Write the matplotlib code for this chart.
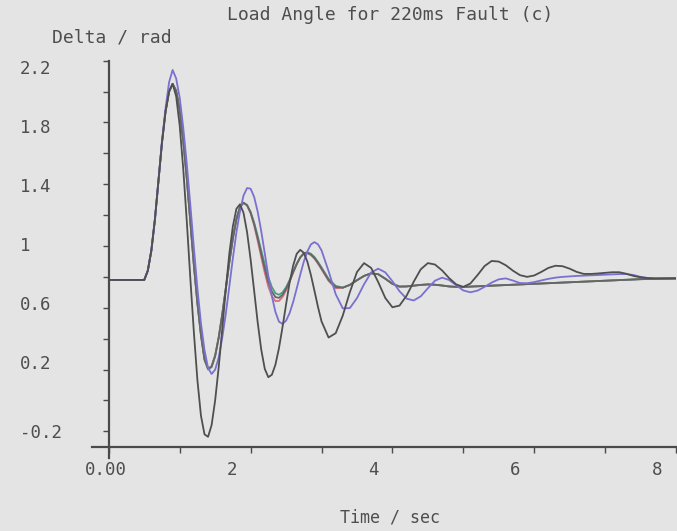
import numpy as np
import matplotlib
matplotlib.use("Agg")
import matplotlib.pyplot as plt
from matplotlib import transforms

# Sample times (s): flat pre-fault section, fine sampling through the large swings, then 0.1 s
time_s = np.concatenate([[0.0, 0.5],
                         np.round(np.arange(0.55, 3.0001, 0.05), 2),
                         np.round(np.arange(3.1, 8.0001, 0.1), 1)])

# Load angle (rad) for each case
delta_black = [
    0.78, 0.78,
    0.84, 0.97, 1.17, 1.42, 1.67, 1.87, 2.00, 2.05, 1.97, 1.78,
    1.50, 1.16, 0.79, 0.44, 0.13, -0.10, -0.22, -0.236, -0.16, 0.00,
    0.215, 0.462, 0.718, 0.951, 1.128, 1.241, 1.27, 1.215, 1.09, 0.913,
    0.71, 0.505, 0.329, 0.204, 0.15, 0.166, 0.231, 0.338, 0.474, 0.621,
    0.763, 0.873, 0.949, 0.975, 0.956, 0.899, 0.813, 0.711, 0.606, 0.512,
    0.407, 0.435, 0.549, 0.701, 0.831, 0.889, 0.858, 0.766, 0.663, 0.603,
    0.614, 0.678, 0.768, 0.849, 0.889, 0.88, 0.842, 0.792, 0.751, 0.735,
    0.757, 0.811, 0.870, 0.903, 0.899, 0.875, 0.84, 0.811, 0.80, 0.809,
    0.832, 0.858, 0.872, 0.869, 0.853, 0.832, 0.819, 0.819, 0.822, 0.826,
    0.83, 0.83, 0.82, 0.806, 0.797, 0.792, 0.79, 0.79, 0.79, 0.79,
]

delta_blue = [
    0.78, 0.78,
    0.84, 0.97, 1.17, 1.42, 1.68, 1.89, 2.06, 2.14, 2.085, 1.96,
    1.766, 1.532, 1.266, 0.988, 0.724, 0.498, 0.325, 0.21, 0.171, 0.199,
    0.277, 0.405, 0.56, 0.739, 0.921, 1.089, 1.224, 1.326, 1.375, 1.371,
    1.318, 1.222, 1.096, 0.952, 0.806, 0.675, 0.573, 0.51, 0.495, 0.516,
    0.565, 0.637, 0.724, 0.814, 0.898, 0.964, 1.01, 1.025, 1.011, 0.972,
    0.837, 0.688, 0.596, 0.598, 0.662, 0.752, 0.828, 0.853, 0.829, 0.772,
    0.707, 0.659, 0.647, 0.674, 0.726, 0.775, 0.795, 0.78, 0.746, 0.712,
    0.70, 0.711, 0.735, 0.763, 0.784, 0.79, 0.776, 0.76, 0.759, 0.766,
    0.777, 0.787, 0.795, 0.80, 0.803, 0.806, 0.808, 0.81, 0.812, 0.814,
    0.816, 0.818, 0.818, 0.812, 0.80, 0.793, 0.79, 0.79, 0.79, 0.79,
]

# The red, green and grey cases settle onto the same slow recovery from 3.3 s
settled_tail = [
    0.73, 0.748, 0.778, 0.806, 0.823, 0.817, 0.788, 0.755,
    0.737, 0.738, 0.743, 0.748, 0.751, 0.749, 0.744, 0.738, 0.735, 0.735,
    0.737, 0.739, 0.741, 0.743, 0.745, 0.747, 0.749, 0.751, 0.753, 0.755,
    0.757, 0.759, 0.761, 0.763, 0.765, 0.767, 0.769, 0.771, 0.773, 0.775,
    0.777, 0.779, 0.781, 0.783, 0.785, 0.786, 0.787, 0.788, 0.789, 0.79,
]

delta_red = [
    0.78, 0.78,
    0.84, 0.97, 1.17, 1.42, 1.67, 1.87, 2.00, 2.05, 2.006, 1.882,
    1.681, 1.436, 1.157, 0.876, 0.629, 0.423, 0.268, 0.207, 0.222, 0.292,
    0.409, 0.558, 0.725, 0.895, 1.049, 1.173, 1.253, 1.28, 1.263, 1.212,
    1.133, 1.034, 0.928, 0.826, 0.736, 0.675, 0.643, 0.644, 0.669, 0.712,
    0.767, 0.827, 0.882, 0.925, 0.95, 0.953, 0.941, 0.918, 0.886, 0.849,
    0.774, 0.726,
] + settled_tail

delta_green = [
    0.78, 0.78,
    0.84, 0.97, 1.17, 1.42, 1.67, 1.87, 2.00, 2.05, 2.006, 1.882,
    1.681, 1.436, 1.157, 0.876, 0.629, 0.423, 0.262, 0.20, 0.215, 0.285,
    0.405, 0.555, 0.722, 0.893, 1.048, 1.172, 1.253, 1.28, 1.265, 1.221,
    1.152, 1.065, 0.972, 0.881, 0.797, 0.734, 0.694, 0.684, 0.699, 0.733,
    0.779, 0.833, 0.885, 0.927, 0.953, 0.96, 0.95, 0.929, 0.897, 0.861,
    0.787, 0.742,
] + settled_tail

delta_grey = [
    0.78, 0.78,
    0.84, 0.97, 1.17, 1.42, 1.67, 1.87, 2.00, 2.05, 2.006, 1.882,
    1.681, 1.436, 1.157, 0.876, 0.629, 0.423, 0.265, 0.204, 0.219, 0.289,
    0.407, 0.557, 0.724, 0.894, 1.049, 1.173, 1.253, 1.28, 1.264, 1.216,
    1.142, 1.05, 0.95, 0.853, 0.766, 0.705, 0.669, 0.664, 0.684, 0.722,
    0.773, 0.83, 0.883, 0.926, 0.951, 0.956, 0.945, 0.923, 0.891, 0.855,
    0.78, 0.734,
] + settled_tail

x_ticks = [0, 1, 2, 3, 4, 5, 6, 7, 8]
x_tick_labels = ["0.00", "", "2", "", "4", "", "6", "", "8"]
y_ticks = [-0.2, 0.0, 0.2, 0.4, 0.6, 0.8, 1.0, 1.2, 1.4, 1.6, 1.8, 2.0, 2.2]
y_tick_labels = ["-0.2", "", "0.2", "", "0.6", "", "1", "", "1.4", "", "1.8", "", "2.2"]

BG = "#e4e4e4"
INK = "#4e4e4e"
AXIS = "#4a4a4a"
FONT = "DejaVu Sans Mono"

W, H, DPI = 677, 531, 100
fig = plt.figure(figsize=(W / DPI, H / DPI), dpi=DPI, facecolor=BG)

x0, x1 = 108.8, 676.0
y_top, y_bot = 60.7, 446.7
ax = fig.add_axes([x0 / W, (H - y_bot) / H, (x1 - x0) / W, (y_bot - y_top) / H])
ax.set_facecolor(BG)
ax.set_xlim(0, 8)
ax.set_ylim(-0.3, 2.2)

lw = 1.3
ax.plot(time_s, delta_red, color="#d8707c", lw=lw)
ax.plot(time_s, delta_green, color="#4f9a86", lw=lw)
ax.plot(time_s, delta_grey, color="#666666", lw=lw)
ax.plot(time_s, delta_blue, color="#7a70d0", lw=lw)
ax.plot(time_s, delta_black, color="#4f4f4f", lw=lw)

for side in ("top", "right"):
    ax.spines[side].set_visible(False)
for side in ("left", "bottom"):
    ax.spines[side].set_color(AXIS)
    ax.spines[side].set_linewidth(1.6)
ax.spines["left"].set_bounds(-0.37, 2.2)
ax.spines["bottom"].set_bounds(-0.24, 8)

ax.set_xticks(x_ticks)
ax.set_xticklabels(x_tick_labels)
ax.set_yticks(y_ticks)
ax.set_yticklabels(y_tick_labels)
ax.tick_params(axis="both", direction="out", length=4, width=1.0, color=AXIS,
               labelcolor=INK, labelsize=12.5)
ax.tick_params(axis="x", pad=6)
ax.tick_params(axis="y", pad=(x0 - 20 - 5.5) * 72 / DPI)

# The plotter set its value labels on a slightly different pitch than the ticks
label_pitch_px = 59.0
for lbl, val, txt in zip(ax.get_yticklabels(), y_ticks, y_tick_labels):
    lbl.set_fontfamily(FONT)
    lbl.set_horizontalalignment("left")
    if txt and val > 0:
        target = 67 + (2.2 - val) / 0.4 * label_pitch_px
        tick_px = y_top + (2.2 - val) / 2.5 * (y_bot - y_top)
        dy = -(target - tick_px) / DPI
        lbl.set_transform(lbl.get_transform()
                          + transforms.ScaledTranslation(0, dy, fig.dpi_scale_trans))
shift = transforms.ScaledTranslation(-24 / DPI, 0, fig.dpi_scale_trans)
for lbl in ax.get_xticklabels():
    lbl.set_fontfamily(FONT)
    lbl.set_horizontalalignment("left")
    lbl.set_transform(lbl.get_transform() + shift)

fig.text(390 / W, 1 - 15 / H, "Load Angle for 220ms Fault (c)", ha="center", va="center",
         fontsize=13, family=FONT, color=INK)
fig.text(52 / W, 1 - 37 / H, "Delta / rad", ha="left", va="center",
         fontsize=13, family=FONT, color=INK)
fig.text(390 / W, 1 - 518 / H, "Time / sec", ha="center", va="center",
         fontsize=12, family=FONT, color=INK)

fig.savefig("out.png", dpi=DPI, facecolor=BG)
